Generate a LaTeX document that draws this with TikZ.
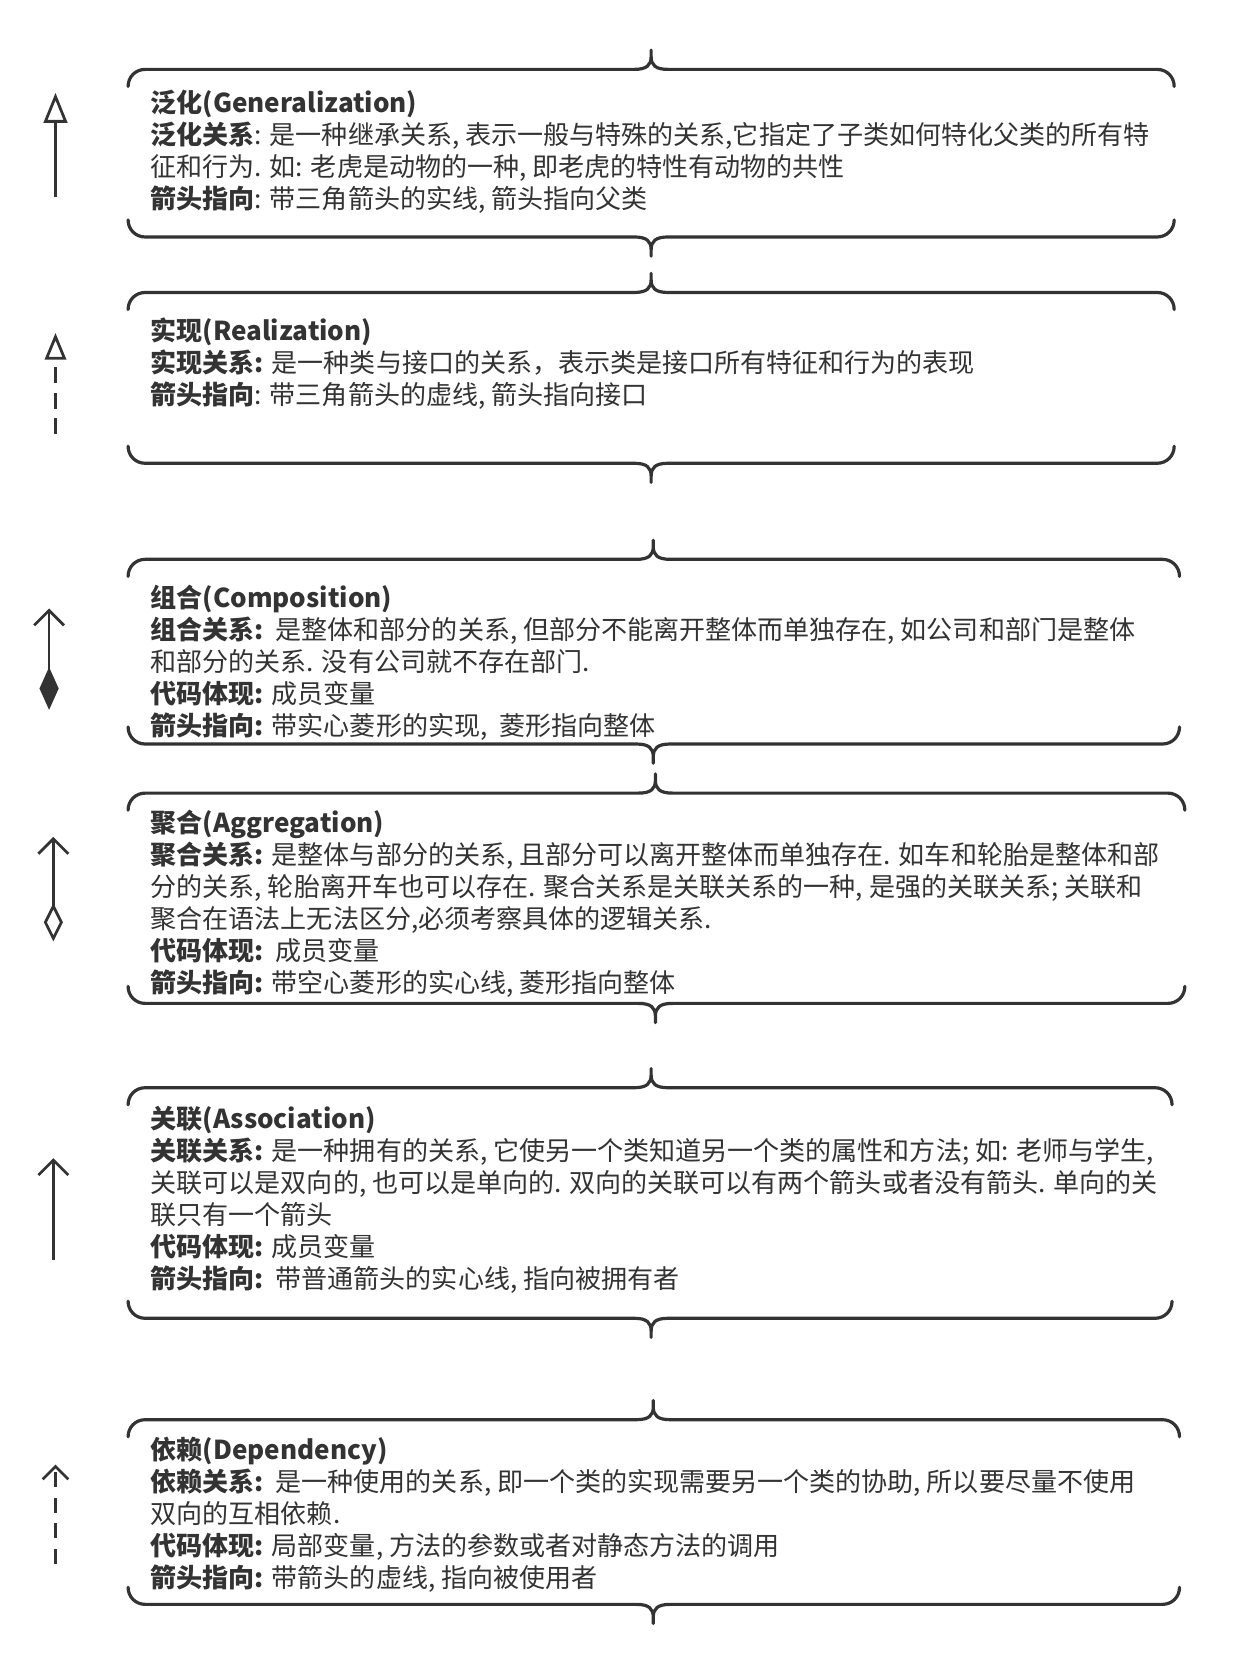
\documentclass[tikz,border=0pt]{standalone}
\usepackage{fontspec}
\setmainfont{Noto Sans CJK SC}
\usepackage{tikz}
\usetikzlibrary{arrows.meta}
\definecolor{ink}{HTML}{333333}
\pgfmathsetmacro{\tx}{141}
\tikzset{
	brace/.style = {line width = 3pt, ink, line join = round, line cap = round},
	rel/.style = {line width = 2.6pt, ink},
	txt/.style = {anchor = base west, align = left, inner sep = 0pt, text = ink, font = \fontsize{24.4}{30}\selectfont},
	uptip/.tip = {Straight Barb[length = 14pt, width = 28pt]}
}
\newcommand{\bracetop}[4]{%
	\draw[brace] (#1, #4+16) .. controls (#1, #4+7) and (#1+7, #4) .. (#1+16, #4) -- (#2-16, #4) .. controls (#2-4, #4) and (#2, #4-4) .. (#2, #4-12) -- (#2, #4-18) -- (#2, #4-12) .. controls (#2, #4-4) and (#2+4, #4) .. (#2+16, #4) -- (#3-16, #4) .. controls (#3-7, #4) and (#3, #4+7) .. (#3, #4+16);}
\newcommand{\bracebot}[4]{%
	\draw[brace] (#1, #4-16) .. controls (#1, #4-7) and (#1+7, #4) .. (#1+16, #4) -- (#2-16, #4) .. controls (#2-4, #4) and (#2, #4+4) .. (#2, #4+12) -- (#2, #4+18) -- (#2, #4+12) .. controls (#2, #4+4) and (#2+4, #4) .. (#2+16, #4) -- (#3-16, #4) .. controls (#3-7, #4) and (#3, #4-7) .. (#3, #4-16);}

\begin{document}
\begin{tikzpicture}[x = 1pt, y = -1pt]
	\fill[white] (0, 0) rectangle (1160, 1572);
	\useasboundingbox (0, 0) rectangle (1160, 1572);

	\bracetop{120}{610}{1100}{65}
	\bracebot{120}{610}{1100}{222}
	\coordinate (genS) at (52, 185);
	\coordinate (genE) at (52, 87);
	\draw[rel, arrows = {-{Triangle[open, length = 28pt, width = 22pt]}}] (genS) -- (genE);
	\node[txt] (gen) at (\tx, 195) {\textbf{泛化(Generalization)}\\
		\textbf{泛化关系}: 是一种继承关系, 表示一般与特殊的关系,它指定了子类如何特化父类的所有特\\
		征和行为. 如: 老虎是动物的一种, 即老虎的特性有动物的共性\\
		\textbf{箭头指向}: 带三角箭头的实线, 箭头指向父类};

	\bracetop{120}{610}{1100}{274}
	\bracebot{120}{610}{1100}{434}
	\coordinate (reaS) at (52, 407);
	\coordinate (reaE) at (52, 312);
	\draw[rel, dash pattern = on 15pt off 9pt, arrows = {-{Triangle[open, length = 25pt, width = 20pt]}}] (reaS) -- (reaE);
	\node[txt] (rea) at (\tx, 379) {\textbf{实现(Realization)}\\
		\textbf{实现关系:} 是一种类与接口的关系，表示类是接口所有特征和行为的表现\\
		\textbf{箭头指向}: 带三角箭头的虚线, 箭头指向接口};

	\bracetop{120}{612}{1105}{524}
	\bracebot{120}{612}{1105}{697}
	\coordinate (comS) at (46, 665);
	\coordinate (comE) at (46, 570);
	\draw[rel, arrows = {{Diamond[length = 40pt, width = 18pt]}-uptip}] (comS) -- (comE);
	\node[txt] (com) at (\tx, 689) {\textbf{组合(Composition)}\\
		\textbf{组合关系:}\ \ 是整体和部分的关系, 但部分不能离开整体而单独存在, 如公司和部门是整体\\
		和部分的关系. 没有公司就不存在部门.\\
		\textbf{代码体现:} 成员变量\\
		\textbf{箭头指向:} 带实心菱形的实现,\ \ 菱形指向整体};

	\bracetop{120}{614}{1110}{743}
	\bracebot{120}{614}{1110}{940}
	\coordinate (aggS) at (50, 882);
	\coordinate (aggE) at (50, 784);
	\draw[rel, arrows = {{Diamond[open, length = 36pt, width = 18pt]}-uptip}] (aggS) -- (aggE);
	\node[txt] (agg) at (\tx, 930) {\textbf{聚合(Aggregation)}\\
		\textbf{聚合关系:} 是整体与部分的关系, 且部分可以离开整体而单独存在. 如车和轮胎是整体和部\\
		分的关系, 轮胎离开车也可以存在. 聚合关系是关联关系的一种, 是强的关联关系; 关联和\\
		聚合在语法上无法区分,必须考察具体的逻辑关系.\\
		\textbf{代码体现:}\ \ 成员变量\\
		\textbf{箭头指向:} 带空心菱形的实心线, 菱形指向整体};

	\bracetop{120}{610}{1098}{1019}
	\bracebot{120}{610}{1098}{1235}
	\coordinate (assS) at (50, 1180);
	\coordinate (assE) at (50, 1085);
	\draw[rel, arrows = {-uptip}] (assS) -- (assE);
	\node[txt] (ass) at (\tx, 1207) {\textbf{关联(Association)}\\
		\textbf{关联关系:} 是一种拥有的关系, 它使另一个类知道另一个类的属性和方法; 如: 老师与学生,\\
		关联可以是双向的, 也可以是单向的. 双向的关联可以有两个箭头或者没有箭头. 单向的关\\
		联只有一个箭头\\
		\textbf{代码体现:} 成员变量\\
		\textbf{箭头指向:}\ \ 带普通箭头的实心线, 指向被拥有者};

	\bracetop{120}{612}{1105}{1330}
	\bracebot{120}{612}{1105}{1503}
	\coordinate (depS) at (52, 1465);
	\coordinate (depE) at (52, 1372);
	\draw[rel, dash pattern = on 14pt off 10pt, arrows = {-{Straight Barb[length = 12pt, width = 24pt]}}] (depS) -- (depE);
	\node[txt] (dep) at (\tx, 1487) {\textbf{依赖(Dependency)}\\
		\textbf{依赖关系:}\ \ 是一种使用的关系, 即一个类的实现需要另一个类的协助, 所以要尽量不使用\\
		双向的互相依赖.\\
		\textbf{代码体现:} 局部变量, 方法的参数或者对静态方法的调用\\
		\textbf{箭头指向:} 带箭头的虚线, 指向被使用者};
\end{tikzpicture}
\end{document}
